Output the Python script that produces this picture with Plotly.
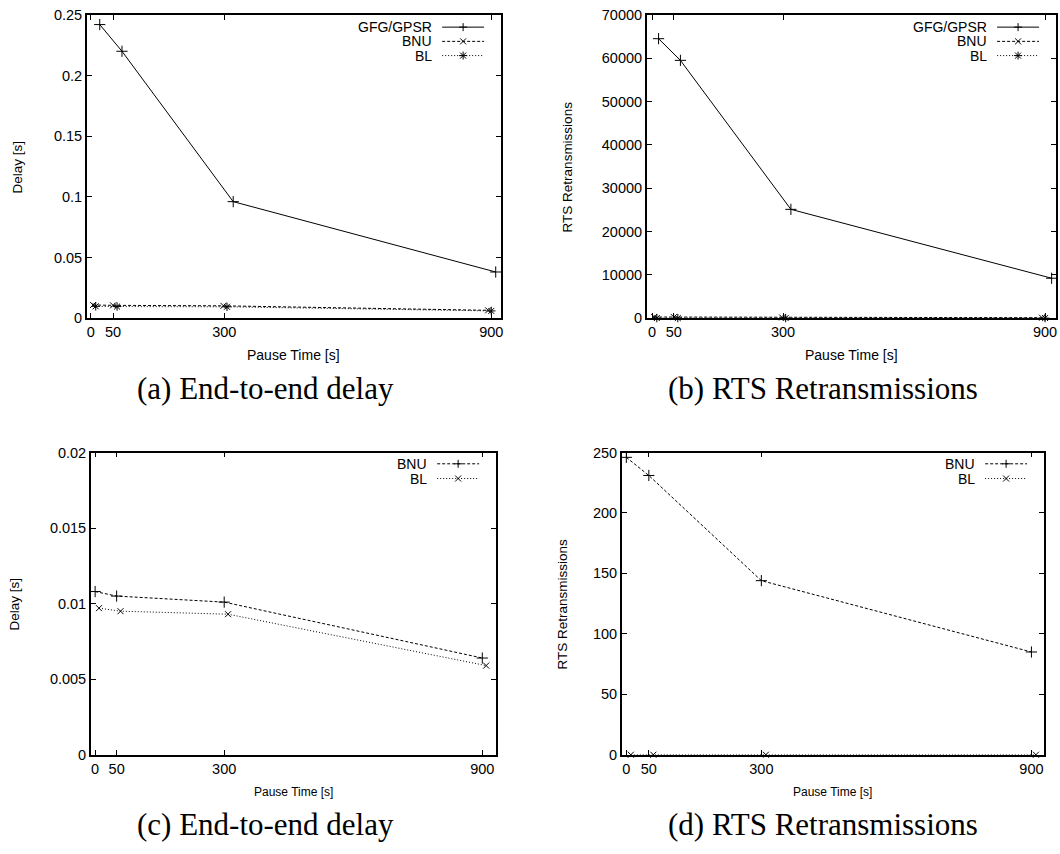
import plotly.graph_objects as go

# ---------------- data ----------------
ticks_pause = [0, 50, 300, 900]

# (a) End-to-end delay
a_gfg_x = [20, 70, 320, 910]
a_gfg_y = [0.242, 0.220, 0.096, 0.038]
a_bnu_x = [5, 50, 298, 893]
a_bnu_y = [0.0108, 0.0105, 0.0101, 0.0064]
a_bl_x = [11, 59, 306, 900]
a_bl_y = [0.0097, 0.0095, 0.0093, 0.0059]

# (b) RTS Retransmissions
b_gfg_x = [15, 65, 318, 915]
b_gfg_y = [64500, 59500, 25100, 9200]
b_bnu_x = [5, 50, 298, 893]
b_bnu_y = [246, 231, 144, 85]
b_bl_x = [11, 59, 306, 900]
b_bl_y = [0, 0, 0, 0]

# (c) End-to-end delay (BNU vs BL)
c_bnu_x = [0, 50, 300, 900]
c_bnu_y = [0.0108, 0.0105, 0.0101, 0.0064]
c_bl_x = [9, 59, 309, 909]
c_bl_y = [0.0097, 0.0095, 0.0093, 0.0059]

# (d) RTS Retransmissions (BNU vs BL)
d_bnu_x = [0, 50, 300, 900]
d_bnu_y = [246, 231, 144, 85]
d_bl_x = [10, 60, 310, 910]
d_bl_y = [0, 0, 0, 0]

captions = ["(a) End-to-end delay", "(b) RTS Retransmissions",
            "(c) End-to-end delay", "(d) RTS Retransmissions"]

W, H = 1060, 854
SANS = "Liberation Sans, Arial, sans-serif"
SERIF = "Liberation Serif, Times New Roman, serif"

fig = go.Figure()

# panel geometry in pixels: (left, right, top, bottom)
panels = {
    "a": (87, 502, 7, 316),
    "b": (648, 1058, 7, 316),
    "c": (91, 497, 453, 761),
    "d": (623, 1046, 453, 761),
}
axis_ids = {"a": ("x", "y"), "b": ("x2", "y2"), "c": ("x3", "y3"), "d": ("x4", "y4")}
xranges = {"a": [-9, 922], "b": [-12, 925], "c": [-10, 932], "d": [-10, 928]}
yranges = {"a": [0, 0.25], "b": [0, 70000], "c": [0, 0.02], "d": [0, 250]}
ydticks = {"a": 0.05, "b": 10000, "c": 0.005, "d": 50}
ytitles = {"a": "Delay [s]", "b": "RTS Retransmissions", "c": "Delay [s]", "d": "RTS Retransmissions"}
ytitle_x = {"a": 18, "b": 569, "c": 15, "d": 564}
cap_pos = {"a": (266, 388), "b": (825, 388), "c": (266, 832), "d": (825, 832)}

layout_axes = {}
for k, (l, r, t, b) in panels.items():
    xa, ya = axis_ids[k]
    xname = "xaxis" + xa[1:]
    yname = "yaxis" + ya[1:]
    common = dict(showline=True, linecolor="black", linewidth=1.5, mirror="allticks",
                  ticks="inside", ticklen=5, tickwidth=1, tickcolor="black",
                  showgrid=False, zeroline=False,
                  tickfont=dict(family=SANS, size=14.5, color="black"))
    layout_axes[xname] = dict(common, domain=[l / W, r / W], range=xranges[k],
                              tickvals=ticks_pause, anchor=ya)
    layout_axes[yname] = dict(common, domain=[1 - b / H, 1 - t / H], range=yranges[k],
                              dtick=ydticks[k], tick0=0, anchor=xa,
                              tickformat="~g" if k in ("a", "c") else "d")


def add_series(k, x, y, dash, symbol, size):
    xa, ya = axis_ids[k]
    fig.add_trace(go.Scatter(
        x=x, y=y, xaxis=xa, yaxis=ya, mode="lines+markers", showlegend=False,
        cliponaxis=False,
        line=dict(color="black", width=1, dash=dash),
        marker=dict(symbol=symbol, size=size, color="black",
                    line=dict(color="black", width=1)),
    ))


DASH = "3px,2px"
DOT = "1px,2px"

add_series("a", a_gfg_x, a_gfg_y, "solid", "cross-thin", 8)
add_series("a", a_bnu_x, a_bnu_y, DASH, "x-thin", 6)
add_series("a", a_bl_x, a_bl_y, DOT, "asterisk", 7)

add_series("b", b_gfg_x, b_gfg_y, "solid", "cross-thin", 8)
add_series("b", b_bnu_x, b_bnu_y, DASH, "x-thin", 6)
add_series("b", b_bl_x, b_bl_y, DOT, "asterisk", 7)

add_series("c", c_bnu_x, c_bnu_y, DASH, "cross-thin", 8)
add_series("c", c_bl_x, c_bl_y, DOT, "x-thin", 6)

add_series("d", d_bnu_x, d_bnu_y, DASH, "cross-thin", 8)
add_series("d", d_bl_x, d_bl_y, DOT, "x-thin", 6)

shapes = []
annotations = []


def sym_shapes(xref, yref, xm, ym, sym):
    segs = []
    if sym in ("+", "*"):
        segs += [(-4, 0, 4, 0), (0, -4, 0, 4)]
    if sym in ("x", "*"):
        segs += [(-3, -3, 3, 3), (-3, 3, 3, -3)]
    for x0, y0, x1, y1 in segs:
        shapes.append(dict(type="line", xref=xref, yref=yref, xsizemode="pixel",
                           ysizemode="pixel", xanchor=xm, yanchor=ym,
                           x0=x0, x1=x1, y0=y0, y1=y1,
                           line=dict(color="black", width=1)))


def add_legend(k, entries, top_off, row_h):
    l, r, t, b = panels[k]
    w, h = r - l, b - t
    xa, ya = axis_ids[k]
    xref, yref = xa + " domain", ya + " domain"
    for i, (name, dash, sym) in enumerate(entries):
        yy = 1 - (top_off + i * row_h) / h
        shapes.append(dict(type="line", xref=xref, yref=yref,
                           x0=1 - 59 / w, x1=1 - 17 / w, y0=yy, y1=yy,
                           line=dict(color="black", width=1, dash=dash)))
        sym_shapes(xref, yref, 1 - 38 / w, yy, sym)
        annotations.append(dict(text=name, xref=xref, yref=yref, x=1 - 67 / w, y=yy,
                                xanchor="right", yanchor="middle", showarrow=False,
                                font=dict(family=SANS, size=14, color="black")))


add_legend("a", [("GFG/GPSR", "solid", "+"), ("BNU", DASH, "x"), ("BL", DOT, "*")], 12.5, 14.5)
add_legend("b", [("GFG/GPSR", "solid", "+"), ("BNU", DASH, "x"), ("BL", DOT, "*")], 12.5, 14.5)
add_legend("c", [("BNU", DASH, "+"), ("BL", DOT, "x")], 11.5, 15)
add_legend("d", [("BNU", DASH, "+"), ("BL", DOT, "x")], 11.5, 15)

for k in panels:
    l, r, t, b = panels[k]
    xa, ya = axis_ids[k]
    # x axis title
    annotations.append(dict(text="Pause Time [s]", xref=xa + " domain", yref=ya + " domain",
                            x=0.5, y=0, yshift=-37, xanchor="center", yanchor="middle",
                            showarrow=False,
                            font=dict(family=SANS, size=14 if k in ("a", "b") else 12,
                                      color="black")))
    # y axis title
    annotations.append(dict(text=ytitles[k], xref="paper", yref=ya + " domain",
                            x=ytitle_x[k] / W, y=0.5, xanchor="center", yanchor="middle",
                            textangle=-90, showarrow=False,
                            font=dict(family=SANS, size=13.5, color="black")))

for k, cap in zip(panels, captions):
    cx, cy = cap_pos[k]
    annotations.append(dict(text=cap, xref="paper", yref="paper", x=cx / W, y=1 - cy / H,
                            xanchor="center", yanchor="middle", showarrow=False,
                            font=dict(family=SERIF, size=31, color="black")))

fig.update_layout(
    width=W, height=H, margin=dict(l=0, r=0, t=0, b=0),
    paper_bgcolor="white", plot_bgcolor="white",
    showlegend=False, shapes=shapes, annotations=annotations,
    **layout_axes,
)

fig.write_html("out.html")
